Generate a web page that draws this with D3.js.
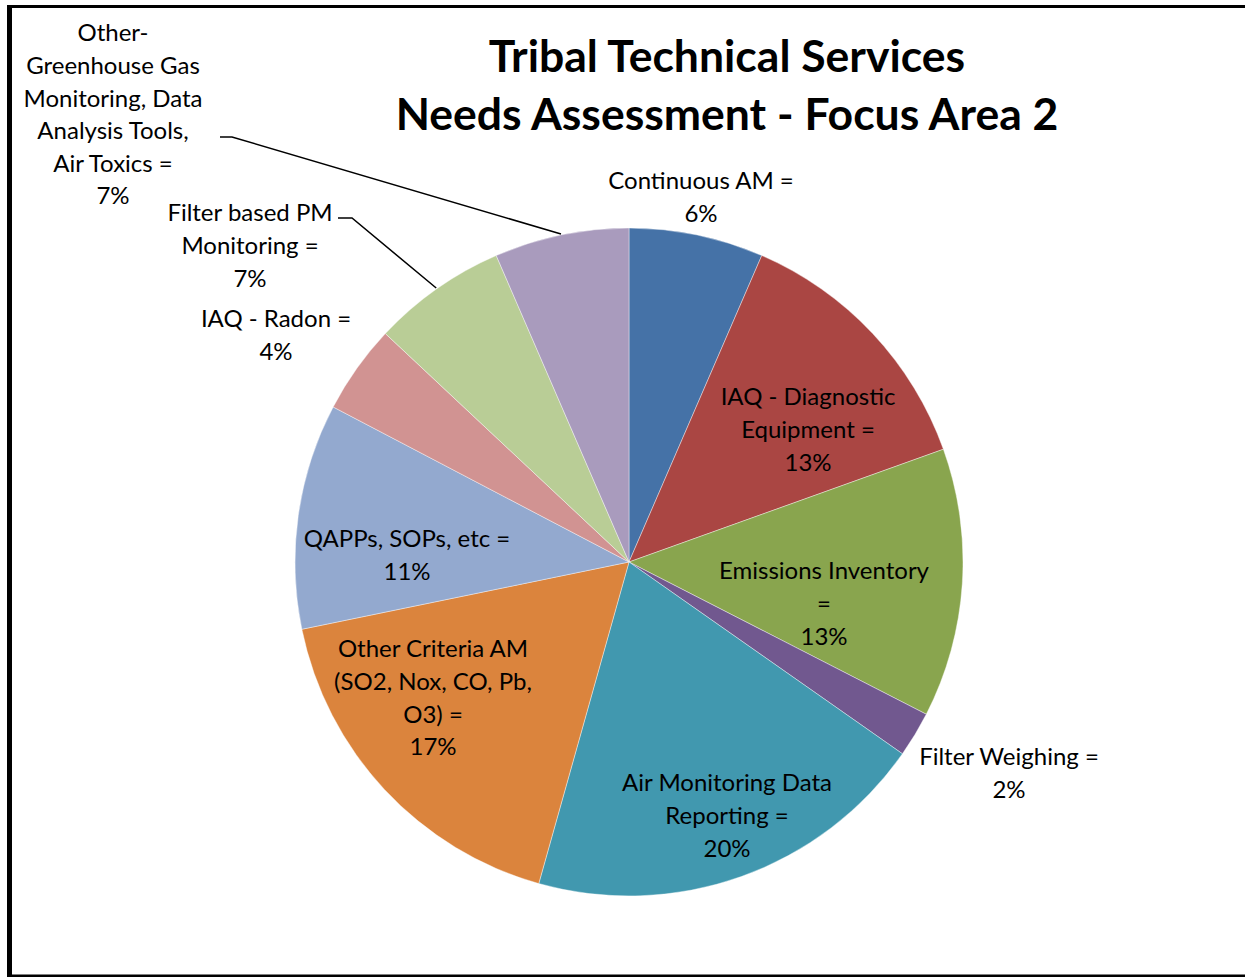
<!DOCTYPE html>
<html>
<head>
<meta charset="utf-8">
<script src="https://cdn.jsdelivr.net/npm/d3@7"></script>
<style>
  body { margin: 0; background: white; }
  text { font-family: Lato, "Open Sans", sans-serif; fill: #000; }
</style>
</head>
<body>
<div id="container"></div>
<script>
var categories = ['Continuous AM', 'IAQ - Diagnostic Equipment', 'Emissions Inventory', 'Filter Weighing',
  'Air Monitoring Data Reporting', 'Other Criteria AM (SO2, Nox, CO, Pb, O3)', 'QAPPs, SOPs, etc',
  'IAQ - Radon', 'Filter based PM Monitoring', 'Other- Greenhouse Gas Monitoring, Data Analysis Tools, Air Toxics'];
var shares = [6.5, 13.0, 13.0, 2.2, 19.6, 17.4, 10.9, 4.3, 6.5, 6.5];
var labelLines = [
  ['Continuous AM =', '6%'],
  ['IAQ - Diagnostic', 'Equipment =', '13%'],
  ['Emissions Inventory', '=', '13%'],
  ['Filter Weighing =', '2%'],
  ['Air Monitoring Data', 'Reporting =', '20%'],
  ['Other Criteria AM', '(SO2, Nox, CO, Pb,', 'O3) =', '17%'],
  ['QAPPs, SOPs, etc =', '11%'],
  ['IAQ - Radon =', '4%'],
  ['Filter based PM', 'Monitoring =', '7%'],
  ['Other-', 'Greenhouse Gas', 'Monitoring, Data', 'Analysis Tools,', 'Air Toxics =', '7%']
];
var colors = ['#4572A7', '#AA4643', '#89A54E', '#71588F', '#4198AF', '#DB843D', '#93A9CF', '#D19392', '#B9CD96', '#A99BBD'];
var titleLines = ['Tribal Technical Services', 'Needs Assessment - Focus Area 2'];

var svgWidth = 1245, svgHeight = 977;
var svg = d3.select('#container').append('svg').attr('width', svgWidth).attr('height', svgHeight);

// frame
svg.append('line').attr('x1', 7).attr('x2', 1245).attr('y1', 6.5).attr('y2', 6.5).attr('stroke', '#000').attr('stroke-width', 3);
svg.append('line').attr('x1', 9.5).attr('x2', 9.5).attr('y1', 5).attr('y2', 977).attr('stroke', '#000').attr('stroke-width', 5);
svg.append('line').attr('x1', 7).attr('x2', 1245).attr('y1', 976).attr('y2', 976).attr('stroke', '#000').attr('stroke-width', 3);

// title
svg.append('g').selectAll('text').data(titleLines).enter().append('text')
  .attr('x', 727).attr('y', function(d, i) { return 56 + i * 58; })
  .attr('dy', '0.35em')
  .attr('text-anchor', 'middle')
  .style('font-size', '44.5px').style('font-weight', 'bold')
  .text(function(d) { return d; });

var cx = 629, cy = 562, radius = 334;
var g = svg.append('g').attr('transform', 'translate(' + cx + ',' + cy + ')');

var pie = d3.pie().sort(null).value(function(d) { return d; });
var arc = d3.arc().innerRadius(0).outerRadius(radius);
var arcs = pie(shares);

g.selectAll('path').data(arcs).enter().append('path')
  .attr('d', arc)
  .attr('fill', function(d, i) { return colors[i]; })
  .attr('stroke', '#fff').attr('stroke-width', 0.4);

// label placement (relative to pie centre): [dx, dy of first line]
var labelPos = [
  [72, -381], [179, -165], [195, 9], [380, 195], [98, 221],
  [-196, 87], [-222, -23], [-353, -243], [-379, -349], [-516, -529]
];
var lineH = 32.6;

var labels = g.append('g').selectAll('text').data(arcs).enter().append('text')
  .attr('text-anchor', 'middle')
  .style('font-size', '24px')
  .attr('transform', function(d, i) { return 'translate(' + labelPos[i][0] + ',' + labelPos[i][1] + ')'; });
labels.each(function(d, i) {
  d3.select(this).selectAll('tspan').data(labelLines[i]).enter().append('tspan')
    .attr('x', 0).attr('y', function(t, j) { return j * lineH; })
    .attr('dy', '0.35em')
    .text(function(t) { return t; });
});

// leader lines for outside labels (point on slice edge from arc centroid direction)
function edgePoint(d, r) {
  var a = (d.startAngle + d.endAngle) / 2;
  return [Math.sin(a) * r, -Math.cos(a) * r];
}
var leaders = [
  { idx: 9, pts: [[-409, -425], [-397, -425]] },
  { idx: 8, pts: [[-291, -344], [-277, -344]] }
];
leaders.forEach(function(l) {
  var p = edgePoint(arcs[l.idx], radius + 1);
  g.append('path')
    .attr('d', d3.line()(l.pts.concat([p])))
    .attr('fill', 'none').attr('stroke', '#000').attr('stroke-width', 1.5);
});
</script>
</body>
</html>
